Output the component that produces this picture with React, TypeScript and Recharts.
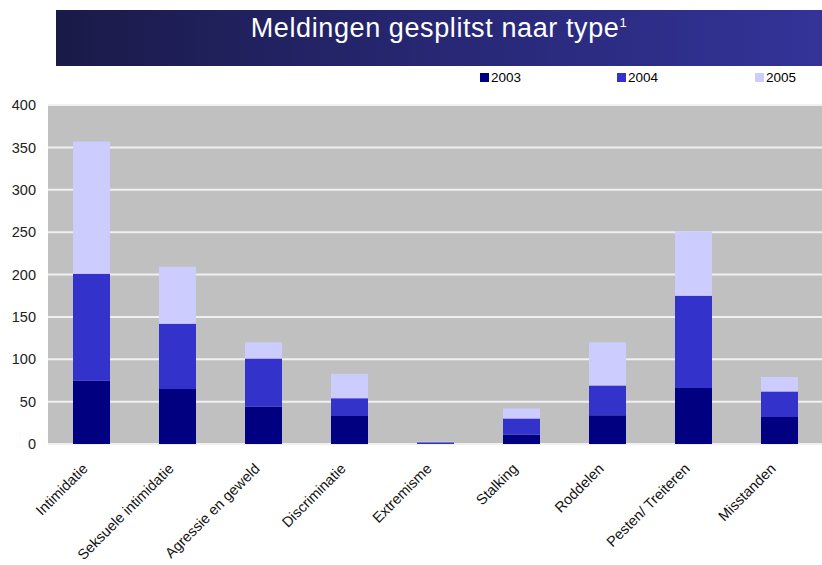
import React from 'react'
import { BarChart, Bar, XAxis, YAxis, CartesianGrid } from 'recharts'

const categories = [
  'Intimidatie',
  'Seksuele intimidatie',
  'Agressie en geweld',
  'Discriminatie',
  'Extremisme',
  'Stalking',
  'Roddelen',
  'Pesten/ Treiteren',
  'Misstanden',
]
const values2003 = [75, 65, 44, 33, 1, 11, 34, 66, 32]
const values2004 = [126, 77, 57, 21, 1, 19, 35, 109, 30]
const values2005 = [156, 67, 19, 29, 1, 12, 51, 76, 17]
const yTicks = [0, 50, 100, 150, 200, 250, 300, 350, 400]

const series = [
  { key: 'y2003', name: '2003', color: '#000080' },
  { key: 'y2004', name: '2004', color: '#3333cc' },
  { key: 'y2005', name: '2005', color: '#ccccff' },
]
const legendLeft = [480, 617, 755]

const font = '"Liberation Sans", Arial, sans-serif'

const data = categories.map((name, i) => ({
  name,
  y2003: values2003[i],
  y2004: values2004[i],
  y2005: values2005[i],
}))

function XTick({ x, y, payload }: any) {
  return (
    <g transform={`translate(${x - 6},${y + 14})`}>
      <text transform="rotate(-45)" textAnchor="end" dy="0.35em" fontSize={14.5} fill="#111" fontFamily={font}>
        {payload.value}
      </text>
    </g>
  )
}

export default function App() {
  return (
    <div style={{ position: 'relative', width: 822, height: 565, background: '#fff' }}>
      <style>{'body{margin:0}'}</style>
      <div
        style={{
          position: 'absolute',
          left: 56,
          top: 10,
          width: 766,
          height: 56,
          background: 'linear-gradient(90deg, #1a1a48 0%, #262670 45%, #333399 100%)',
          color: '#fff',
          fontFamily: font,
          fontSize: 27,
          letterSpacing: 0.6,
          textAlign: 'center',
          paddingTop: 3,
          boxSizing: 'border-box',
        }}
      >
        Meldingen gesplitst naar type<sup style={{ fontSize: 13 }}>1</sup>
      </div>
      {series.map((s, i) => (
        <div
          key={s.key}
          style={{
            position: 'absolute',
            left: legendLeft[i],
            top: 70,
            display: 'flex',
            alignItems: 'center',
            fontFamily: font,
            fontSize: 13.5,
            color: '#000',
          }}
        >
          <span style={{ width: 9, height: 9, background: s.color, marginRight: 2, display: 'inline-block' }} />
          {s.name}
        </div>
      ))}
      <BarChart width={822} height={565} data={data} margin={{ top: 105, right: 0, bottom: 0, left: 0 }} barSize={37}>
        <CartesianGrid vertical={false} fill="#c0c0c0" stroke="#f0f0f0" strokeWidth={2} />
        <XAxis dataKey="name" height={121} axisLine={false} tickLine={false} interval={0} tick={<XTick />} />
        <YAxis
          width={48}
          domain={[0, 400]}
          ticks={yTicks}
          axisLine={false}
          tickLine={false}
          tickMargin={6}
          tick={{ fontSize: 14.5, fill: '#222', fontFamily: font }}
        />
        {series.map((s) => (
          <Bar key={s.key} dataKey={s.key} name={s.name} stackId="a" fill={s.color} isAnimationActive={false} />
        ))}
      </BarChart>
    </div>
  )
}
